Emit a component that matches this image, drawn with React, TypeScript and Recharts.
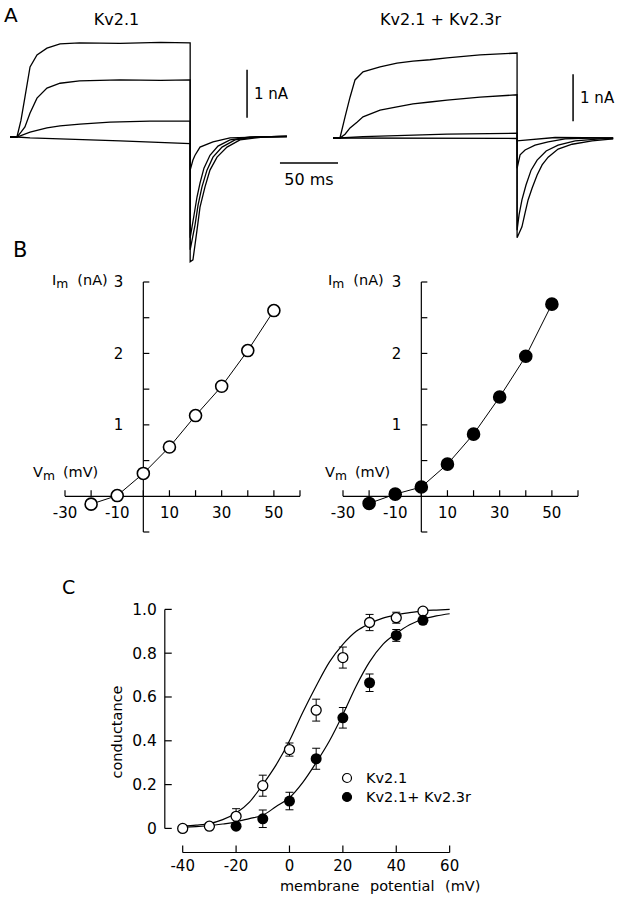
import React from "react";
import {
  LineChart,
  Line,
  ComposedChart,
  Scatter,
  ErrorBar,
  XAxis,
  YAxis,
  ReferenceLine,
  Legend,
} from "recharts";

const FONT = '"DejaVu Sans", Verdana, sans-serif';

// ---- Panel A: current traces, [time (ms), current (nA)] ----
const kv21Trace1 = [
  [0, 0], [6, 0], [9.5, 0.35], [12.9, 0.83], [17.3, 1.46], [23.3, 1.71], [31.9, 1.85],
  [43.2, 1.94], [60, 1.96], [95, 1.95], [130, 1.97], [155.5, 1.96], [155.5, -2.6],
  [157.9, -2.56], [161.4, -1.94], [164, -1.46], [168.3, -1.04], [172.6, -0.69],
  [178.7, -0.42], [187.3, -0.21], [198.5, -0.06], [218.4, 0], [239, 0.02],
];
const kv21Trace2 = [
  [0, 0], [6, 0], [9.5, 0.1], [12.9, 0.21], [17.3, 0.5], [23.3, 0.81], [31.9, 1.02],
  [43.2, 1.12], [60, 1.17], [95, 1.19], [130, 1.18], [155.5, 1.19], [155.5, -2.35],
  [159.7, -1.83], [162.3, -1.42], [165.7, -1.04], [170, -0.69], [175.2, -0.42],
  [183, -0.21], [194.2, -0.06], [211.5, 0], [239, 0.01],
];
const kv21Trace3 = [
  [0, 0], [6, 0], [17.3, 0.1], [31.9, 0.19], [43.2, 0.23], [60.4, 0.27], [86.3, 0.31],
  [120.8, 0.33], [155.5, 0.33], [155.5, -2.1], [158.8, -1.63], [161.4, -1.25],
  [164, -0.96], [167.4, -0.65], [172.6, -0.38], [179.5, -0.19], [189.9, -0.06],
  [207.1, 0], [239, 0.01],
];
const kv21Trace4 = [
  [0, 0], [6, 0], [17.3, -0.02], [43.2, -0.04], [95, -0.08], [155.5, -0.14],
  [155.5, -0.69], [157.9, -0.48], [159.7, -0.38], [164, -0.21], [175.2, -0.1],
  [189.9, -0.02], [215.8, 0], [239, 0.01],
];

const kv23Trace1 = [
  [0, 0], [6, 0], [10.4, 0.44], [14.7, 0.85], [19, 1.21], [25.9, 1.38], [40.6, 1.48],
  [55.2, 1.56], [69, 1.6], [83.7, 1.63], [98.4, 1.67], [126.9, 1.73], [158.8, 1.77],
  [158.8, -2.08], [163, -1.85], [165.7, -1.56], [168.3, -1.29], [171.8, -1.04],
  [176.1, -0.77], [180.4, -0.56], [185.6, -0.4], [194.2, -0.23], [206.3, -0.13],
  [223.5, -0.06], [241.7, -0.02],
];
const kv23Trace2 = [
  [0, 0], [6, 0], [10.4, 0.08], [14.7, 0.21], [20.7, 0.33], [25.9, 0.44], [40.6, 0.58],
  [55.2, 0.65], [69, 0.71], [83.7, 0.75], [98.4, 0.79], [126.9, 0.85], [158.8, 0.9],
  [158.8, -1.92], [160.5, -1.6], [163, -1.29], [166.5, -0.98], [170.9, -0.67],
  [176.1, -0.46], [183.9, -0.27], [194.2, -0.15], [208.9, -0.06], [230.5, -0.02],
  [241.7, -0.01],
];
const kv23Trace3 = [
  [0, 0], [6, 0], [25.9, 0.03], [55.2, 0.05], [98.4, 0.08], [158.8, 0.1],
  [158.8, -0.63], [161.4, -0.35], [165.7, -0.25], [174.3, -0.15], [185.6, -0.08],
  [200.2, -0.02], [221.8, 0], [241.7, 0],
];
const kv23Trace4 = [
  [0, 0], [158.8, -0.01], [158.8, -0.06], [191.6, 0.01], [241.7, 0],
];

// ---- Panel B: I-V relations ----
const ivVoltages = [-20, -10, 0, 10, 20, 30, 40, 50];
const ivKv21 = [-0.11, 0.01, 0.32, 0.69, 1.13, 1.54, 2.04, 2.6];
const ivKv21Kv23r = [-0.1, 0.03, 0.13, 0.45, 0.87, 1.39, 1.96, 2.69];
const ivXTicks = [-30, -20, -10, 0, 10, 20, 30, 40, 50, 60];
const ivXLabels = [-30, -10, 10, 30, 50];
const ivYTicks = [-0.5, 0.5, 1, 1.5, 2, 2.5, 3];
const ivYLabels = [1, 2, 3];

// ---- Panel C: conductance-voltage ----
const gKv21Voltages = [-40, -30, -20, -10, 0, 10, 20, 30, 40, 50];
const gKv21 = [0.0, 0.01, 0.055, 0.195, 0.36, 0.54, 0.78, 0.94, 0.962, 0.992];
const gKv21Err = [0, 0, 0.035, 0.048, 0.03, 0.05, 0.048, 0.037, 0.025, 0.01];
const gKv23Voltages = [-20, -10, 0, 10, 20, 30, 40, 50];
const gKv23 = [0.01, 0.044, 0.125, 0.318, 0.505, 0.665, 0.881, 0.95];
const gKv23Err = [0, 0.04, 0.04, 0.048, 0.047, 0.04, 0.027, 0.01];
const fitVoltages = [-40, -35, -30, -25, -20, -15, -10, -5, 0, 5, 10, 15, 20, 25, 30, 35, 40, 45, 50, 55, 60];
const fitKv21 = [0.01, 0.015, 0.022, 0.04, 0.07, 0.12, 0.2, 0.29, 0.4, 0.53, 0.65, 0.76, 0.84, 0.9, 0.935, 0.96, 0.975, 0.985, 0.993, 0.997, 1.0];
const fitKv23 = [0.005, 0.008, 0.012, 0.02, 0.03, 0.045, 0.06, 0.1, 0.14, 0.21, 0.3, 0.4, 0.52, 0.65, 0.76, 0.84, 0.89, 0.93, 0.955, 0.97, 0.98];
const cXTicks = [-40, -20, 0, 20, 40, 60];
const cYTicks = [0, 0.2, 0.4, 0.6, 0.8, 1.0];
const cYTickLabels = ["0", "0.2", "0.4", "0.6", "0.8", "1.0"];

const toPts = (arr: number[][]) => arr.map(([t, i]) => ({ t, i }));

type TxtProps = {
  x: number;
  y: number;
  size: number;
  anchor?: "start" | "middle";
  rotate?: boolean;
  style?: React.CSSProperties;
  children: React.ReactNode;
};

function Txt({ x, y, size, anchor = "start", rotate, style, children }: TxtProps) {
  const transform = rotate
    ? "translate(-50%, -50%) rotate(-90deg)"
    : anchor === "middle"
    ? "translateX(-50%)"
    : undefined;
  return (
    <div
      style={{
        position: "absolute",
        left: x,
        top: rotate ? y : y - 0.48 * size,
        fontSize: size,
        lineHeight: 1,
        whiteSpace: "nowrap",
        color: "#000",
        transform,
        ...style,
      }}
    >
      {children}
    </div>
  );
}

const Sub = ({ children }: { children: React.ReactNode }) => (
  <span style={{ fontSize: "0.85em", position: "relative", top: "0.3em" }}>{children}</span>
);

function TracePanel({
  traces,
  left,
  top,
  width,
  domainMax,
  vBar,
  hBar,
}: {
  traces: number[][][];
  left: number;
  top: number;
  width: number;
  domainMax: number;
  vBar: { t: number; lo: number; hi: number };
  hBar?: { t0: number; t1: number; i: number };
}) {
  return (
    <div style={{ position: "absolute", left, top }}>
      <LineChart width={width} height={260} margin={{ top: 10, right: 2, bottom: 10, left: 10 }}>
        <XAxis hide type="number" dataKey="t" domain={[0, domainMax]} />
        <YAxis hide type="number" domain={[-2.75, 2.25]} />
        {traces.map((tr, k) => (
          <Line
            key={k}
            data={toPts(tr)}
            dataKey="i"
            type="linear"
            stroke="#000"
            strokeWidth={1.3}
            dot={false}
            isAnimationActive={false}
          />
        ))}
        <ReferenceLine
          segment={[{ x: vBar.t, y: vBar.lo }, { x: vBar.t, y: vBar.hi }]}
          stroke="#000"
          strokeWidth={1.5}
          label={{ value: "1 nA", position: "right", offset: 7, fontSize: 15, fill: "#000" }}
        />
        {hBar && (
          <ReferenceLine
            segment={[{ x: hBar.t0, y: hBar.i }, { x: hBar.t1, y: hBar.i }]}
            stroke="#000"
            strokeWidth={1.5}
            label={{ value: "50 ms", position: "bottom", offset: 11, fontSize: 16, fill: "#000" }}
          />
        )}
      </LineChart>
    </div>
  );
}

function ivAxes() {
  return [
    <ReferenceLine key="ay" segment={[{ x: 0, y: -0.5 }, { x: 0, y: 3 }]} stroke="#000" strokeWidth={1.2} />,
    <ReferenceLine key="ax" segment={[{ x: -30, y: 0 }, { x: 60, y: 0 }]} stroke="#000" strokeWidth={1.2} />,
    ...ivXTicks.map((v) => (
      <ReferenceLine
        key={"xt" + v}
        segment={[{ x: v, y: 0 }, { x: v, y: 0.085 }]}
        stroke="#000"
        strokeWidth={1.2}
        label={
          ivXLabels.includes(v)
            ? { value: String(v), position: "bottom", offset: 11, fontSize: 15, fill: "#000" }
            : undefined
        }
      />
    )),
    ...ivYTicks.map((v) => (
      <ReferenceLine
        key={"yt" + v}
        segment={[{ x: 0, y: v }, { x: 2.3, y: v }]}
        stroke="#000"
        strokeWidth={1.2}
        label={
          ivYLabels.includes(v)
            ? { value: String(v), position: "left", offset: 20, fontSize: 15, fill: "#000" }
            : undefined
        }
      />
    )),
  ];
}

function IVPanel({ values, filled, left }: { values: number[]; filled: boolean; left: number }) {
  const data = ivVoltages.map((v, k) => ({ v, i: values[k] }));
  return (
    <div style={{ position: "absolute", left, top: 261.8 }}>
      <LineChart width={275} height={290} margin={{ top: 20, right: 20, bottom: 20, left: 20 }}>
        <XAxis hide type="number" dataKey="v" domain={[-30, 60]} />
        <YAxis hide type="number" domain={[-0.5, 3]} />
        {ivAxes()}
        <Line
          data={data}
          dataKey="i"
          type="linear"
          stroke="#000"
          strokeWidth={1}
          isAnimationActive={false}
          dot={{ r: 6, fill: filled ? "#000" : "#fff", stroke: "#000", strokeWidth: 1.6 }}
        />
      </LineChart>
    </div>
  );
}

const C_YAXIS_X = -46.7;
const C_XAXIS_Y = -0.11;

const openDot = (p: any) => (
  <circle cx={p.cx} cy={p.cy} r={5} fill="#fff" stroke="#000" strokeWidth={1.3} />
);
const filledDot = (p: any) => <circle cx={p.cx} cy={p.cy} r={5.5} fill="#000" />;

const renderLegend = (props: any) => (
  <div style={{ fontSize: 14.5, color: "#000" }}>
    {(props.payload || [])
      .filter((entry: any) => entry.type !== "none")
      .map((entry: any) => (
        <div key={entry.value} style={{ display: "flex", alignItems: "center", height: 19 }}>
          <svg width={12} height={12}>
            <circle cx={6} cy={6} r={4.5} fill={entry.color} stroke="#000" strokeWidth={1.2} />
          </svg>
          <span style={{ marginLeft: 13 }}>{entry.value}</span>
        </div>
      ))}
  </div>
);

function ConductancePanel() {
  const fit21 = fitVoltages.map((v, k) => ({ v, g: fitKv21[k] }));
  const fit23 = fitVoltages.map((v, k) => ({ v, g: fitKv23[k] }));
  const pts21 = gKv21Voltages.map((v, k) => ({ v, g: gKv21[k], e: gKv21Err[k] }));
  const pts23 = gKv23Voltages.map((v, k) => ({ v, g: gKv23[k], e: gKv23Err[k] }));
  return (
    <div style={{ position: "absolute", left: 119.3, top: 584.6 }}>
      <ComposedChart width={356} height={289.7} margin={{ top: 20, right: 20, bottom: 20, left: 45 }}>
        <XAxis hide type="number" dataKey="v" domain={[-47, 62]} />
        <YAxis hide type="number" domain={[-0.12, 1.02]} />
        <ReferenceLine segment={[{ x: C_YAXIS_X, y: 0 }, { x: C_YAXIS_X, y: 1 }]} stroke="#000" strokeWidth={1.2} />
        <ReferenceLine segment={[{ x: -40, y: C_XAXIS_Y }, { x: 60, y: C_XAXIS_Y }]} stroke="#000" strokeWidth={1.2} />
        {cYTicks.map((v, k) => (
          <ReferenceLine
            key={"cy" + v}
            segment={[{ x: C_YAXIS_X, y: v }, { x: C_YAXIS_X + 2.6, y: v }]}
            stroke="#000"
            strokeWidth={1.2}
            label={{ value: cYTickLabels[k], position: "left", offset: 8, fontSize: 15.5, fill: "#000" }}
          />
        ))}
        {cXTicks.map((v) => (
          <ReferenceLine
            key={"cx" + v}
            segment={[{ x: v, y: C_XAXIS_Y }, { x: v, y: C_XAXIS_Y + 0.032 }]}
            stroke="#000"
            strokeWidth={1.2}
            label={{ value: String(v), position: "bottom", offset: 8, fontSize: 15, fill: "#000" }}
          />
        ))}
        <Line data={fit21} dataKey="g" type="monotone" stroke="#000" strokeWidth={1.2} dot={false} legendType="none" isAnimationActive={false} />
        <Line data={fit23} dataKey="g" type="monotone" stroke="#000" strokeWidth={1.2} dot={false} legendType="none" isAnimationActive={false} />
        <Scatter name="Kv2.1" data={pts21} dataKey="g" fill="#fff" shape={openDot} isAnimationActive={false}>
          <ErrorBar dataKey="e" direction="y" width={4} stroke="#000" strokeWidth={1} />
        </Scatter>
        <Scatter name="Kv2.1+ Kv2.3r" data={pts23} dataKey="g" fill="#000" shape={filledDot} isAnimationActive={false}>
          <ErrorBar dataKey="e" direction="y" width={4} stroke="#000" strokeWidth={1} />
        </Scatter>
        <Legend
          layout="vertical"
          align="center"
          verticalAlign="middle"
          wrapperStyle={{ left: 221.7, top: 183.9, width: "auto" }}
          content={renderLegend}
        />
      </ComposedChart>
    </div>
  );
}

export default function App() {
  return (
    <div
      style={{
        position: "absolute",
        left: 0,
        top: 0,
        width: 620,
        height: 900,
        background: "#fff",
        fontFamily: FONT,
        overflow: "hidden",
      }}
    >
      <TracePanel
        traces={[kv21Trace1, kv21Trace2, kv21Trace3, kv21Trace4]}
        left={0}
        top={19}
        width={348}
        domainMax={290}
        vBar={{ t: 204.6, lo: 0.4, hi: 1.4 }}
        hBar={{ t0: 233, t1: 283.1, i: -0.54 }}
      />
      <TracePanel
        traces={[kv23Trace1, kv23Trace2, kv23Trace3, kv23Trace4]}
        left={323}
        top={20}
        width={296}
        domainMax={245}
        vBar={{ t: 207.1, lo: 0.35, hi: 1.33 }}
      />

      <IVPanel values={ivKv21} filled={false} left={45} />
      <IVPanel values={ivKv21Kv23r} filled={true} left={323} />

      <ConductancePanel />

      <Txt x={4} y={15} size={20}>A</Txt>
      <Txt x={116.5} y={20} size={16} anchor="middle">Kv2.1</Txt>
      <Txt x={440.5} y={20} size={16} anchor="middle">Kv2.1 + Kv2.3r</Txt>

      <Txt x={13} y={250} size={21}>B</Txt>
      <Txt x={52} y={279.7} size={14.5}>
        I<Sub>m</Sub>
        <span style={{ marginLeft: 9 }}>(nA)</span>
      </Txt>
      <Txt x={33} y={471.7} size={14.5}>
        V<Sub>m</Sub>
        <span style={{ marginLeft: 8 }}>(mV)</span>
      </Txt>
      <Txt x={328} y={279.7} size={14.5}>
        I<Sub>m</Sub>
        <span style={{ marginLeft: 9 }}>(nA)</span>
      </Txt>
      <Txt x={325} y={471.7} size={14.5}>
        V<Sub>m</Sub>
        <span style={{ marginLeft: 8 }}>(mV)</span>
      </Txt>

      <Txt x={62} y={587} size={19}>C</Txt>
      <Txt x={117} y={732} size={14.5} rotate>conductance</Txt>
      <Txt x={280} y={885.5} size={14.5} style={{ wordSpacing: 6 }}>
        membrane potential (mV)
      </Txt>
    </div>
  );
}
